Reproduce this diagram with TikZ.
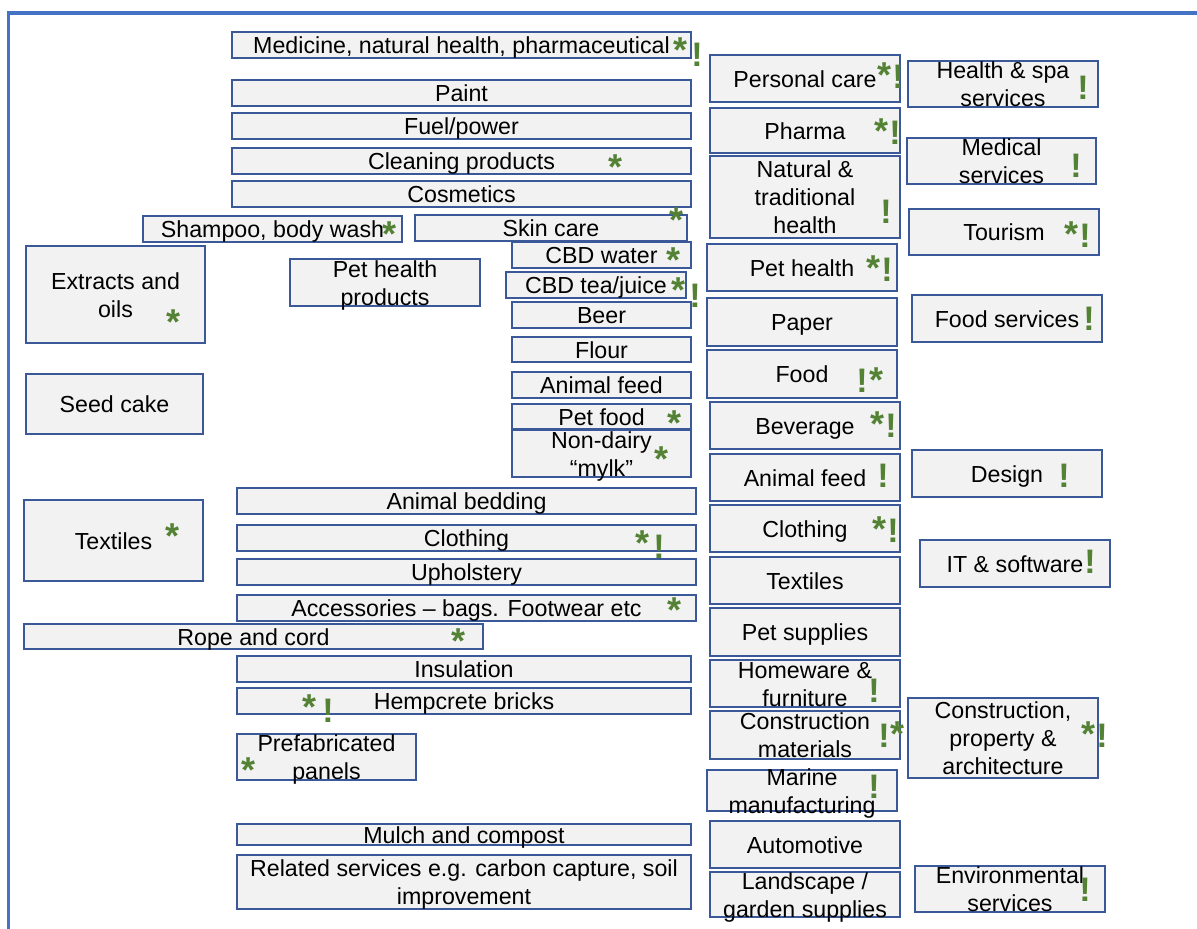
\documentclass[tikz,border=0pt]{standalone}
\usepackage{fontspec}
\setmainfont{Liberation Sans}
\definecolor{framec}{RGB}{68,114,196}
\definecolor{bordc}{RGB}{59,89,152}
\definecolor{boxfill}{RGB}{242,242,242}
\definecolor{grnc}{RGB}{84,130,53}
\tikzset{
  box/.style={draw=bordc, fill=boxfill, line width=1.4pt, inner sep=0pt, outer sep=0pt},
  lbl/.style={font=\fontsize{23.2}{28}\selectfont, align=center, inner sep=0pt, text=black, yshift=-2.8pt},
  grn/.style={font=\fontsize{34}{34}\selectfont\bfseries, text=grnc, inner sep=0pt, anchor=base},
  ast/.style={font=\fontsize{36}{36}\selectfont\bfseries, text=grnc, inner sep=0pt, anchor=base, yshift=2pt},
  framestyle/.style={draw=framec, line width=3.3pt}
}
\newcommand{\hbx}[6]{%
  \node[box, minimum width={(#4-#2)*1pt}, minimum height={(#5-#3)*1pt}] (#1) at ({(#2+#4)/2},{(#3+#5)/2}) {};
  \node[lbl] (#1-t) at (#1.center) {\vphantom{Hdl}#6\vphantom{gp}};}
\begin{document}
\begin{tikzpicture}[x=1pt,y=-1pt]
\useasboundingbox (0,0) rectangle (1197,929);
\coordinate (fa) at (8.7,931);
\coordinate (fb) at (8.7,13);
\coordinate (fc) at (1199,13);
\draw[framestyle] (fa) -- (fb) -- (fc);
% column A
\hbx{a1}{232}{32}{691}{58}{Medicine, natural health, pharmaceutical}
\hbx{a2}{232}{80}{691}{106}{Paint}
\hbx{a3}{232}{113}{691}{139}{Fuel/power}
\hbx{a4}{232}{148}{691}{174}{Cleaning products}
\hbx{a5}{232}{181}{691}{207}{Cosmetics}
\hbx{a6}{143}{216}{402}{242}{Shampoo, body wash}
\hbx{a7}{415}{215}{687}{241}{Skin care}
\hbx{a8}{512}{242}{691}{268}{CBD water}
\hbx{a9}{506}{272}{686}{298}{CBD tea/juice}
\hbx{a10}{512}{302}{691}{328}{Beer}
\hbx{a11}{512}{337}{691}{362}{Flour}
\hbx{a12}{512}{372}{691}{398}{Animal feed}
\hbx{a13}{512}{404}{691}{429}{Pet food}
\hbx{a14}{512}{430}{691}{477}{Non-dairy\\“mylk”}
\hbx{p1}{290}{259}{480}{306}{Pet health\\products}
\hbx{e1}{26}{246}{205}{343}{Extracts and\\oils}
\hbx{s1}{26}{374}{203}{434}{Seed cake}
\hbx{t1}{24}{500}{203}{581}{Textiles}
% column B
\hbx{b1}{237}{488}{696}{514}{Animal bedding}
\hbx{b2}{237}{525}{696}{551}{Clothing}
\hbx{b3}{237}{559}{696}{585}{Upholstery}
\hbx{b4}{237}{595}{696}{621}{Accessories – bags. Footwear etc}
\hbx{r1}{24}{624}{483}{649}{Rope and cord}
\hbx{b5}{237}{656}{691}{682}{Insulation}
\hbx{b6}{237}{688}{691}{714}{Hempcrete bricks}
\hbx{b7}{237}{734}{416}{780}{Prefabricated\\panels}
\hbx{b8}{237}{824}{691}{845}{Mulch and compost}
\hbx{b9}{237}{855}{691}{909}{Related services e.g. carbon capture, soil\\improvement}
% column C
\hbx{c1}{710}{55}{900}{102}{Personal care}
\hbx{c2}{710}{108}{900}{153}{Pharma}
\hbx{c3}{710}{156}{900}{238}{Natural \&\\traditional\\health}
\hbx{c4}{707}{244}{897}{291}{Pet health}
\hbx{c5}{707}{298}{897}{346}{Paper}
\hbx{c6}{707}{350}{897}{398}{Food}
\hbx{c7}{710}{402}{900}{449}{Beverage}
\hbx{c8}{710}{454}{900}{501}{Animal feed}
\hbx{c9}{710}{505}{900}{552}{Clothing}
\hbx{c10}{710}{557}{900}{604}{Textiles}
\hbx{c11}{710}{608}{900}{656}{Pet supplies}
\hbx{c12}{710}{660}{900}{707}{Homeware \&\\furniture}
\hbx{c13}{710}{711}{900}{759}{Construction\\materials}
\hbx{c14}{707}{770}{897}{811}{Marine\\manufacturing}
\hbx{c15}{710}{821}{900}{868}{Automotive}
\hbx{c16}{710}{872}{900}{917}{Landscape /\\garden supplies}
% column D
\hbx{d1}{908}{61}{1098}{107}{Health \& spa\\services}
\hbx{d2}{907}{138}{1096}{184}{Medical\\services}
\hbx{d3}{909}{209}{1099}{255}{Tourism}
\hbx{d4}{912}{295}{1102}{342}{Food services}
\hbx{d5}{912}{450}{1102}{497}{Design}
\hbx{d6}{920}{540}{1110}{587}{IT \& software}
\hbx{d7}{908}{698}{1098}{778}{Construction,\\property \&\\architecture}
\hbx{d8}{915}{866}{1105}{912}{Environmental\\services}
% markers
\node[ast] (m1) at (680,64) {*};
\node[grn] (m2) at (697,66) {!};
\node[ast] (m3) at (615,181) {*};
\node[ast] (m4) at (390,248) {*};
\node[ast] (m5) at (676,234) {*};
\node[ast] (m6) at (673,274) {*};
\node[ast] (m7) at (678,304) {*};
\node[grn] (m8) at (695,307) {!};
\node[ast] (m9) at (174,336) {*};
\node[ast] (m10) at (674,437) {*};
\node[ast] (m11) at (661,473) {*};
\node[ast] (m12) at (173,550) {*};
\node[ast] (m13) at (642,557) {*};
\node[grn] (m14) at (659,558) {!};
\node[ast] (m15) at (674,624) {*};
\node[ast] (m16) at (458,655) {*};
\node[ast] (m17) at (310,721) {*};
\node[grn] (m18) at (328,722) {!};
\node[ast] (m19) at (249,784) {*};
\node[ast] (m20) at (884,89) {*};
\node[grn] (m21) at (898,88) {!};
\node[ast] (m22) at (881,145) {*};
\node[grn] (m23) at (895,144) {!};
\node[grn] (m24) at (886,223) {!};
\node[ast] (m25) at (873,282) {*};
\node[grn] (m26) at (887,281) {!};
\node[grn] (m27) at (862,392) {!};
\node[ast] (m28) at (876,394) {*};
\node[ast] (m29) at (877,438) {*};
\node[grn] (m30) at (891,437) {!};
\node[grn] (m31) at (883,487) {!};
\node[ast] (m32) at (879,543) {*};
\node[grn] (m33) at (893,542) {!};
\node[grn] (m34) at (874,702) {!};
\node[grn] (m35) at (884,747) {!};
\node[ast] (m36) at (897,748) {*};
\node[grn] (m37) at (874,798) {!};
\node[grn] (m38) at (1083,99) {!};
\node[grn] (m39) at (1076,177) {!};
\node[ast] (m40) at (1071,248) {*};
\node[grn] (m41) at (1085,247) {!};
\node[grn] (m42) at (1089,330) {!};
\node[grn] (m43) at (1064,487) {!};
\node[grn] (m44) at (1090,573) {!};
\node[ast] (m45) at (1088,748) {*};
\node[grn] (m46) at (1102,747) {!};
\node[grn] (m47) at (1085,901) {!};
\end{tikzpicture}
\end{document}
